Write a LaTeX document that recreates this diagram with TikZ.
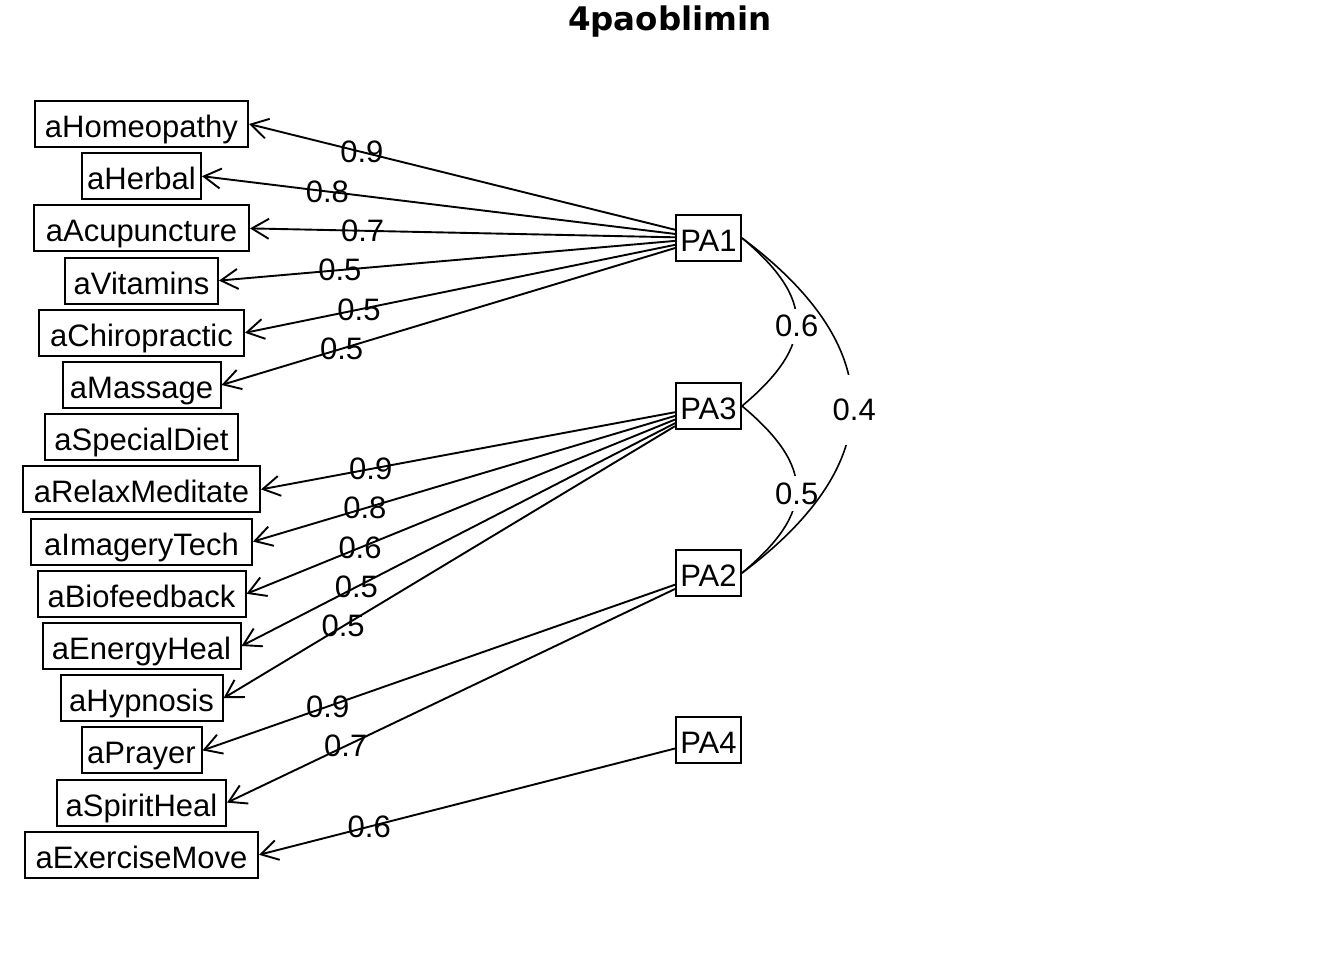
\documentclass[tikz,border=0pt]{standalone}
\usepackage{fontspec}
\setmainfont{Liberation Sans}
\newfontfamily\titlefont{DejaVu Sans}
\usetikzlibrary{arrows.meta,calc}
\begin{document}
\begin{tikzpicture}[x=1pt,y=-1pt,
  every node/.style={font=\fontsize{31}{36}\selectfont},
  item/.style={draw, line width=2pt, minimum height=46pt, inner xsep=0pt, inner ysep=0pt,
    text height=27pt, text depth=0pt},
  load/.style={-{Straight Barb[length=17pt,width=20pt]}, line width=1.9pt},
  lab/.style={pos=0.735, inner sep=0pt},
  cor/.style={line width=1.6pt},
  corlab/.style={fill=white, inner xsep=0pt, inner ysep=0pt, yshift=-4pt}
]
\useasboundingbox (0,0) rectangle (1344,960);

\node[font=\titlefont\bfseries\fontsize{32.5}{38}\selectfont, anchor=base] (title) at (670,31) {4paoblimin};

\node[item, minimum width=213pt] (hom) at (141.5,124.0) {aHomeopathy};
\node[item, minimum width=119pt] (her) at (141.5,176.2) {aHerbal};
\node[item, minimum width=215pt] (acu) at (141.5,228.4) {aAcupuncture};
\node[item, minimum width=153pt] (vit) at (141.5,280.6) {aVitamins};
\node[item, minimum width=205pt] (chi) at (141.5,332.8) {aChiropractic};
\node[item, minimum width=158pt] (mas) at (141.5,385.0) {aMassage};
\node[item, minimum width=193pt] (spe) at (141.5,437.2) {aSpecialDiet};
\node[item, minimum width=237pt] (rel) at (141.5,489.4) {aRelaxMeditate};
\node[item, minimum width=221pt] (ima) at (141.5,541.6) {aImageryTech};
\node[item, minimum width=208pt] (bio) at (141.5,593.8) {aBiofeedback};
\node[item, minimum width=198pt] (ene) at (141.5,646.0) {aEnergyHeal};
\node[item, minimum width=162pt] (hyp) at (141.5,698.2) {aHypnosis};
\node[item, minimum width=120pt] (pra) at (141.5,750.4) {aPrayer};
\node[item, minimum width=169pt] (spi) at (141.5,802.6) {aSpiritHeal};
\node[item, minimum width=233pt] (exe) at (141.5,854.8) {aExerciseMove};

\node[item, minimum width=65pt] (PA1) at (708.5,238) {PA1};
\node[item, minimum width=65pt] (PA3) at (708.5,406) {PA3};
\node[item, minimum width=65pt] (PA2) at (708.5,573) {PA2};
\node[item, minimum width=65pt] (PA4) at (708.5,740) {PA4};

\draw[load] (PA1) -- (hom.east) node[lab]{0.9};
\draw[load] (PA1) -- (her.east) node[lab]{0.8};
\draw[load] (PA1) -- (acu.east) node[lab]{0.7};
\draw[load] (PA1) -- (vit.east) node[lab]{0.5};
\draw[load] (PA1) -- (chi.east) node[lab]{0.5};
\draw[load] (PA1) -- (mas.east) node[lab]{0.5};

\draw[load] (PA3) -- (rel.east) node[lab]{0.9};
\draw[load] (PA3) -- (ima.east) node[lab]{0.8};
\draw[load] (PA3) -- (bio.east) node[lab]{0.6};
\draw[load] (PA3) -- (ene.east) node[lab]{0.5};
\draw[load] (PA3) -- (hyp.east) node[lab]{0.5};

\draw[load] (PA2) -- (pra.east) node[lab]{0.9};
\draw[load] (PA2) -- (spi.east) node[lab]{0.7};

\draw[load] (PA4) -- (exe.east) node[lab]{0.6};

\draw[cor] (PA1.east) .. controls ($(PA1.east)+(73,61)$) and ($(PA3.east)+(73,-61)$) .. (PA3.east)
  node[pos=0.5, corlab, minimum height=35pt]{0.6};
\draw[cor] (PA3.east) .. controls ($(PA3.east)+(73,61)$) and ($(PA2.east)+(73,-61)$) .. (PA2.east)
  node[pos=0.5, corlab, minimum height=35pt]{0.5};
\draw[cor] (PA1.east) .. controls ($(PA1.east)+(147,110)$) and ($(PA2.east)+(147,-110)$) .. (PA2.east)
  node[pos=0.5, corlab, xshift=2pt, minimum height=70pt]{0.4};
\end{tikzpicture}
\end{document}
